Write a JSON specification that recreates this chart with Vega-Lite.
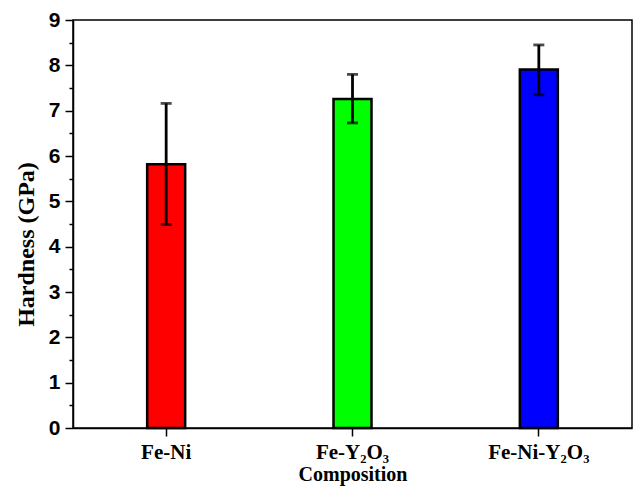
{
  "$schema": "https://vega.github.io/schema/vega-lite/v6.json",
  "width": 559,
  "height": 408,
  "autosize": "none",
  "padding": {"left": 73, "top": 20, "right": 3, "bottom": 59},
  "background": "white",
  "config": {"view": {"stroke": "black", "strokeWidth": 1.5}},
  "data": {
    "values": [
      {"composition": "Fe-Ni", "hardness": 5.82, "lo": 4.49, "hi": 7.16},
      {"composition": "Fe-Y₂O₃", "hardness": 7.26, "lo": 6.73, "hi": 7.8},
      {"composition": "Fe-Ni-Y₂O₃", "hardness": 7.91, "lo": 7.35, "hi": 8.45}
    ]
  },
  "encoding": {
    "x": {
      "field": "composition",
      "type": "nominal",
      "sort": null,
      "scale": {"paddingInner": 0, "paddingOuter": 0},
      "axis": {
        "title": "Composition",
        "titleFont": "Liberation Serif",
        "titleFontSize": 20,
        "titleFontWeight": "bold",
        "titleColor": "black",
        "titlePadding": 2,
        "labelFont": "Liberation Serif",
        "labelFontSize": 21,
        "labelFontWeight": "bold",
        "labelColor": "black",
        "labelAngle": 0,
        "labelPadding": 5,
        "tickSize": 8,
        "tickWidth": 1.5,
        "tickColor": "black",
        "domainColor": "black",
        "domainWidth": 1.5,
        "grid": false
      }
    }
  },
  "layer": [
    {
      "mark": {"type": "bar", "width": 38, "stroke": "black", "strokeWidth": 2.5},
      "encoding": {
        "y": {
          "field": "hardness",
          "type": "quantitative",
          "scale": {"domain": [0, 9], "nice": false},
          "axis": {
            "title": "Hardness (GPa)",
            "titleFont": "Liberation Serif",
            "titleFontSize": 24,
            "titleFontWeight": "bold",
            "titleColor": "black",
            "titlePadding": 10,
            "titleY": 224,
            "labelFont": "Liberation Sans",
            "labelFontSize": 21,
            "labelFontWeight": "bold",
            "labelColor": "black",
            "labelPadding": 5,
            "values": [0, 1, 2, 3, 4, 5, 6, 7, 8, 9],
            "tickSize": 8,
            "tickWidth": 1.5,
            "tickColor": "black",
            "domainColor": "black",
            "domainWidth": 1.5,
            "grid": false
          }
        },
        "color": {
          "field": "composition",
          "type": "nominal",
          "sort": null,
          "scale": {"range": ["#ff0000", "#00ff00", "#0000ff"]},
          "legend": null
        }
      }
    },
    {
      "mark": {"type": "rule", "strokeWidth": 2.8, "color": "black"},
      "encoding": {
        "y": {"field": "lo", "type": "quantitative", "axis": null},
        "y2": {"field": "hi"}
      }
    },
    {
      "mark": {"type": "tick", "size": 11, "thickness": 2.8, "color": "black"},
      "encoding": {
        "y": {"field": "lo", "type": "quantitative", "axis": null}
      }
    },
    {
      "mark": {"type": "tick", "size": 11, "thickness": 2.8, "color": "black"},
      "encoding": {
        "y": {
          "field": "hi",
          "type": "quantitative",
          "axis": {
            "orient": "left",
            "title": null,
            "labels": false,
            "domain": false,
            "grid": false,
            "values": [0.5, 1.5, 2.5, 3.5, 4.5, 5.5, 6.5, 7.5, 8.5],
            "tickSize": 4,
            "tickWidth": 1.5,
            "tickColor": "black"
          }
        }
      }
    }
  ],
  "resolve": {"axis": {"y": "independent"}}
}
